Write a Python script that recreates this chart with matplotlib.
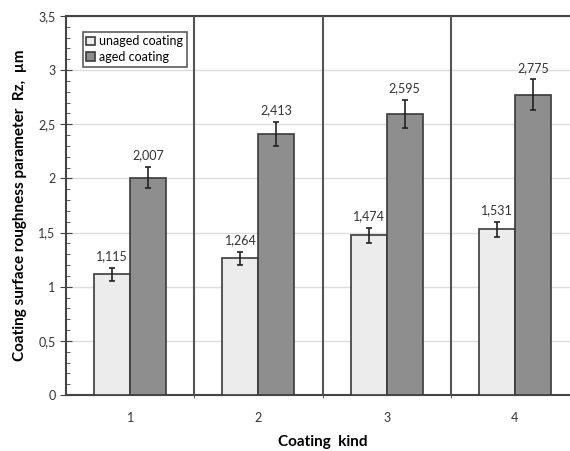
import numpy as np
import matplotlib.pyplot as plt
from matplotlib.ticker import MultipleLocator, FuncFormatter

plt.rcParams['font.family'] = ['Lato', 'DejaVu Sans']

kinds = ['1', '2', '3', '4']
unaged = [1.115, 1.264, 1.474, 1.531]
aged = [2.007, 2.413, 2.595, 2.775]
unaged_err = [0.06, 0.06, 0.07, 0.07]
aged_err = [0.10, 0.11, 0.13, 0.14]

fig = plt.figure(figsize=(5.7, 4.51), dpi=100)
ax = fig.add_axes([66 / 570, 56 / 451, 513 / 570, 379 / 451])

x = np.arange(1, len(kinds) + 1)
w = 0.28
ax.bar(x - w / 2, unaged, w, color='#ececec', edgecolor='#3a3a3a', lw=1.2,
       yerr=unaged_err, error_kw=dict(ecolor='#222222', capsize=2.5, elinewidth=1.2, capthick=1.2),
       label='unaged coating', zorder=3)
ax.bar(x + w / 2, aged, w, color='#8e8e8e', edgecolor='#3a3a3a', lw=1.2,
       yerr=aged_err, error_kw=dict(ecolor='#222222', capsize=2.5, elinewidth=1.2, capthick=1.2),
       label='aged coating', zorder=3)

for xi, v, e in zip(x - w / 2, unaged, unaged_err):
    ax.text(xi, v + e + 0.05, f'{v:.3f}'.replace('.', ','), ha='center', va='bottom', fontsize=9, color='#333333')
for xi, v, e in zip(x + w / 2, aged, aged_err):
    ax.text(xi, v + e + 0.05, f'{v:.3f}'.replace('.', ','), ha='center', va='bottom', fontsize=9, color='#333333')

# category separators
for b in [1.5, 2.5, 3.5]:
    ax.axvline(b, color='#555555', lw=1.5, zorder=4)

ax.set_xlim(0.5, 4.5)
ax.set_ylim(0, 3.5)
ax.yaxis.set_major_locator(MultipleLocator(0.5))
ax.yaxis.set_minor_locator(MultipleLocator(0.1))
ax.yaxis.set_major_formatter(FuncFormatter(lambda v, p: f'{v:g}'.replace('.', ',')))
ax.grid(axis='y', color='#dddddd', lw=1, zorder=0)

ax.set_xticks(x)
ax.set_xticklabels(kinds)
ax.tick_params(axis='x', length=0, pad=12, labelsize=9, labelcolor='#333333')
ax.set_xticks([1.5, 2.5, 3.5], minor=True)
ax.tick_params(axis='x', which='minor', length=5, direction='inout', color='#444444')
ax.tick_params(axis='y', which='major', length=8, direction='inout', labelsize=9, labelcolor='#333333', color='#444444')
ax.tick_params(axis='y', which='minor', length=3, direction='in', color='#444444')

for s in ['left', 'bottom', 'top']:
    ax.spines[s].set_color('#444444')
    ax.spines[s].set_linewidth(1.5)
ax.spines['right'].set_visible(False)

ax.set_xlabel('Coating  kind', fontsize=11, fontweight='bold', labelpad=8)
ax.set_ylabel('Coating surface roughness parameter  Rz,  µm', fontsize=11, fontweight='bold', labelpad=8)

leg = ax.legend(loc='upper left', bbox_to_anchor=(0.02, 0.975), fontsize=9, frameon=True, fancybox=False,
                edgecolor='#333333', handlelength=0.7, handleheight=0.7, handletextpad=0.3,
                borderpad=0.3, labelspacing=0.3)
leg.get_frame().set_linewidth(1.2)

fig.savefig('out.png', dpi=100)
